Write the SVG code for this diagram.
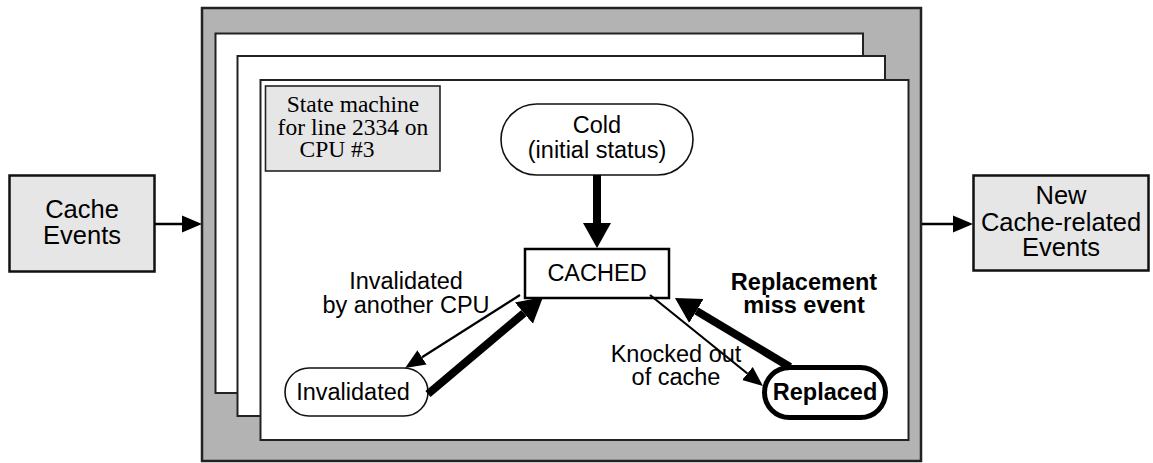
<svg xmlns="http://www.w3.org/2000/svg" width="1153" height="463" viewBox="0 0 1153 463">
<style>
.sans{font-family:"Liberation Sans",Arial,sans-serif;fill:#000}
.serif{font-family:"Liberation Serif","Times New Roman",serif;fill:#000}
.big{font-size:25.5px}
.mid{font-size:23.5px}
.b{font-weight:bold}
.panel{fill:#fff;stroke:#222;stroke-width:2}
.ev{fill:#e6e6e6;stroke:#111;stroke-width:2.5}
.state{fill:#fff;stroke:#111;stroke-width:1.6}
.thin{stroke:#000;stroke-width:2.2;fill:none}
.thick{stroke:#000;stroke-width:8;fill:none}
</style>
<defs>
<marker id="hThick" markerUnits="userSpaceOnUse" markerWidth="26" markerHeight="30" viewBox="0 -15 26 30" refX="0" refY="0" orient="auto"><path d="M0,-14 L25,0 L0,14 z" fill="#000"/></marker>
<marker id="hThin" markerUnits="userSpaceOnUse" markerWidth="21" markerHeight="20" viewBox="0 -10 21 20" refX="0" refY="0" orient="auto"><path d="M0,-8.5 L20,0 L0,8.5 z" fill="#000"/></marker>
</defs>
<g id="container">
<rect x="202" y="8" width="719" height="453" fill="#b3b3b3" stroke="#222" stroke-width="2.5"/>
<rect class="panel" x="215.5" y="33.5" width="647.5" height="359.5"/>
<rect class="panel" x="237.5" y="56" width="647.5" height="360"/>
<rect class="panel" x="260.5" y="80" width="648" height="360"/>
</g>
<g id="label-box">
<rect x="265.5" y="86" width="174.5" height="85" fill="#e6e6e6" stroke="#222" stroke-width="1.6"/>
<text class="serif" font-size="23.5" text-anchor="middle"><tspan x="353" y="112">State machine</tspan><tspan x="353" y="135">for line 2334 on</tspan><tspan x="337" y="157">CPU #3</tspan></text>
</g>
<g id="cache-events">
<rect class="ev" x="9.5" y="175.5" width="145" height="96"/>
<text class="sans big" text-anchor="middle"><tspan x="82" y="218">Cache</tspan><tspan x="82" y="243.5">Events</tspan></text>
</g>
<g id="new-events">
<rect class="ev" x="973.5" y="175.5" width="175" height="95"/>
<text class="sans big" text-anchor="middle"><tspan x="1061" y="204">New</tspan><tspan x="1061" y="231">Cache-related</tspan><tspan x="1061" y="256">Events</tspan></text>
</g>
<g id="cold">
<rect class="state" x="501" y="104" width="192" height="71" rx="35.5"/>
<text class="sans mid" text-anchor="middle"><tspan x="597" y="133">Cold</tspan><tspan x="597" y="158">(initial status)</tspan></text>
</g>
<g id="cached">
<rect x="525" y="249" width="144" height="49" fill="#fff" stroke="#000" stroke-width="2.5"/>
<text class="sans mid" text-anchor="middle" x="597" y="281">CACHED</text>
</g>
<g id="invalidated">
<rect class="state" x="285" y="368" width="143" height="48" rx="24"/>
<text class="sans mid" text-anchor="middle" x="353" y="400">Invalidated</text>
</g>
<g id="replaced">
<rect x="764.5" y="367.5" width="121" height="50" rx="25" fill="#fff" stroke="#000" stroke-width="5"/>
<text class="sans mid b" text-anchor="middle" x="825" y="400">Replaced</text>
</g>
<g id="connectors">
<line x1="155" y1="224" x2="182" y2="224" stroke="#000" stroke-width="2.5" marker-end="url(#hThin)"/>
<line x1="922" y1="224" x2="953" y2="224" stroke="#000" stroke-width="2.5" marker-end="url(#hThin)"/>
<line class="thick" x1="597" y1="175" x2="597" y2="223" marker-end="url(#hThick)"/>
<line class="thick" x1="428" y1="394" x2="523.9" y2="313.1" marker-end="url(#hThick)"/>
<line class="thick" x1="790" y1="367" x2="696.4" y2="310.9" marker-end="url(#hThick)"/>
<line class="thin" x1="520" y1="295" x2="422" y2="357.3" marker-end="url(#hThin)"/>
<line class="thin" x1="650" y1="295" x2="747.4" y2="373.5" marker-end="url(#hThin)"/>
</g>
<g id="labels">
<text class="sans mid" text-anchor="middle"><tspan x="406" y="289">Invalidated</tspan><tspan x="406" y="313">by another CPU</tspan></text>
<text class="sans mid" text-anchor="middle"><tspan x="676" y="362">Knocked out</tspan><tspan x="676" y="385">of cache</tspan></text>
<text class="sans mid b" text-anchor="middle"><tspan x="804" y="290">Replacement</tspan><tspan x="804" y="313">miss event</tspan></text>
</g>
</svg>
